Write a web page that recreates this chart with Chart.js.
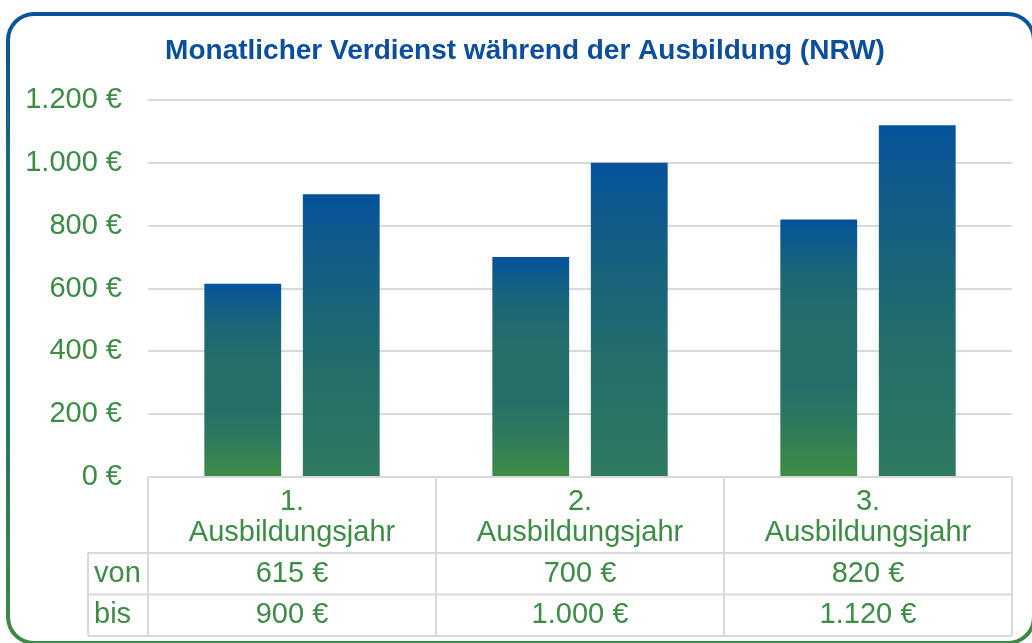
<!DOCTYPE html>
<html><head><meta charset="utf-8">
<title>Monatlicher Verdienst während der Ausbildung (NRW)</title>
<script src="https://cdn.jsdelivr.net/npm/chart.js"></script>
<style>
    body { margin: 0; background: #fff; overflow: hidden; font-family: 'Liberation Sans', Arial, sans-serif; }
    .rahmen { position: absolute; left: 6px; top: 12px; width: 1030px; height: 633px; border-radius: 28px;
        background: linear-gradient(to bottom, #06529c 0%, #1b6a78 25%, #24736a 45%, #2a7960 70%, #3e8b45 100%); }
    .rahmen-innen { position: absolute; left: 4px; top: 4px; right: 4px; bottom: 4px; border-radius: 24px; background: #fff; }
    .box { position: absolute; left: 0; top: 0; width: 1032px; height: 643px; }
</style></head>
<body>
<div class="rahmen"><div class="rahmen-innen"></div></div>
<div class="box"><canvas id="grafik"></canvas></div>
<script>
// --- DATEN ---
const titel = 'Monatlicher Verdienst während der Ausbildung (NRW)';
const kategorien = [['1.', 'Ausbildungsjahr'], ['2.', 'Ausbildungsjahr'], ['3.', 'Ausbildungsjahr']];
const reihenNamen = ['von', 'bis'];
const von = [615, 700, 820];
const bis = [900, 1000, 1120];
const yTicks = [0, 200, 400, 600, 800, 1000, 1200];

// --- FARBEN ---
const gruen = '#3d8c45';
const blauTitel = '#0b4f9c';
const linie = '#d9d9d9';
const stopsVon = [[0, '#3f8c45'], [0.2, '#2e7a5e'], [0.35, '#237068'], [0.6, '#246f69'], [0.8, '#1a6677'], [1, '#04529c']];
const stopsBis = [[0, '#2e7a62'], [0.35, '#237069'], [0.6, '#1a6479'], [0.85, '#0e5a8c'], [1, '#05529c']];
const schrift = "'Liberation Sans', Arial, sans-serif";

function euro(v) {
    return String(v).replace(/\B(?=(\d{3})+(?!\d))/g, '.') + ' €';
}

// Verlauf pro Balken (unten -> oben)
function verlauf(stops) {
    return (c) => {
        const chart = c.chart;
        if (!chart.chartArea || c.raw === undefined) return stops[0][1];
        const y = chart.scales.y;
        const g = chart.ctx.createLinearGradient(0, y.getPixelForValue(0), 0, y.getPixelForValue(c.raw));
        stops.forEach(s => g.addColorStop(s[0], s[1]));
        return g;
    };
}

// Titel (zentriert ueber dem ganzen Rahmen, nicht nur der Grafik)
const titelPlugin = {
    id: 'titelPlugin',
    afterDraw(chart) {
        const ctx = chart.ctx;
        ctx.save();
        ctx.fillStyle = blauTitel;
        ctx.font = 'bold 28px ' + schrift;
        ctx.textAlign = 'center';
        ctx.textBaseline = 'middle';
        ctx.fillText(titel, 525, 51);
        ctx.restore();
    }
};

// Datentabelle unter der Grafik
const tabelle = {
    id: 'tabelle',
    afterDraw(chart) {
        const ctx = chart.ctx;
        const x = chart.scales.x;
        const oben = chart.chartArea.bottom;
        const kopfH = 76, zeileH = 41.5;
        const links = x.left, rechts = x.right;
        const spalteW = (rechts - links) / kategorien.length;
        const labelL = links - 60;
        const unten = oben + kopfH + zeileH * reihenNamen.length;

        ctx.save();
        ctx.strokeStyle = linie;
        ctx.lineWidth = 2;
        ctx.beginPath();
        ctx.moveTo(links, oben); ctx.lineTo(rechts, oben);
        for (let r = 0; r <= reihenNamen.length; r++) {
            const yy = oben + kopfH + r * zeileH;
            ctx.moveTo(labelL, yy); ctx.lineTo(rechts, yy);
        }
        for (let i = 0; i <= kategorien.length; i++) {
            const xx = links + i * spalteW;
            ctx.moveTo(xx, oben); ctx.lineTo(xx, unten);
        }
        ctx.moveTo(labelL, oben + kopfH); ctx.lineTo(labelL, unten);
        ctx.stroke();

        ctx.fillStyle = gruen;
        ctx.font = '29px ' + schrift;
        ctx.textBaseline = 'middle';
        ctx.textAlign = 'center';
        kategorien.forEach((k, i) => {
            const cx = x.getPixelForValue(i);
            ctx.fillText(k[0], cx, oben + 25);
            ctx.fillText(k[1], cx, oben + 56);
        });
        const reihen = [von, bis];
        reihen.forEach((werte, r) => {
            const cy = oben + kopfH + r * zeileH + zeileH / 2;
            ctx.textAlign = 'left';
            ctx.fillText(reihenNamen[r], labelL + 6, cy);
            ctx.textAlign = 'center';
            werte.forEach((v, i) => ctx.fillText(euro(v), x.getPixelForValue(i), cy));
        });
        ctx.restore();
    }
};

new Chart(document.getElementById('grafik'), {
    type: 'bar',
    data: {
        labels: kategorien,
        datasets: [
            { label: reihenNamen[0], data: von, backgroundColor: verlauf(stopsVon), barPercentage: 0.78, categoryPercentage: 0.684 },
            { label: reihenNamen[1], data: bis, backgroundColor: verlauf(stopsBis), barPercentage: 0.78, categoryPercentage: 0.684 }
        ]
    },
    options: {
        responsive: true,
        maintainAspectRatio: false,
        animation: false,
        layout: { padding: { left: 0, right: 20, top: 100, bottom: 166 } },
        plugins: {
            legend: { display: false },
            tooltip: { enabled: false },
            title: { display: false }
        },
        scales: {
            x: { display: false },
            y: {
                min: 0, max: 1200,
                afterFit: (s) => { s.width = 148; },
                afterBuildTicks: (s) => { s.ticks = yTicks.map(v => ({ value: v })); },
                border: { display: false },
                grid: { color: linie, lineWidth: 2, drawTicks: false },
                ticks: {
                    color: gruen,
                    padding: 26,
                    font: { family: schrift, size: 29 },
                    callback: (v) => euro(v)
                }
            }
        }
    },
    plugins: [titelPlugin, tabelle]
});
</script>
</body></html>
